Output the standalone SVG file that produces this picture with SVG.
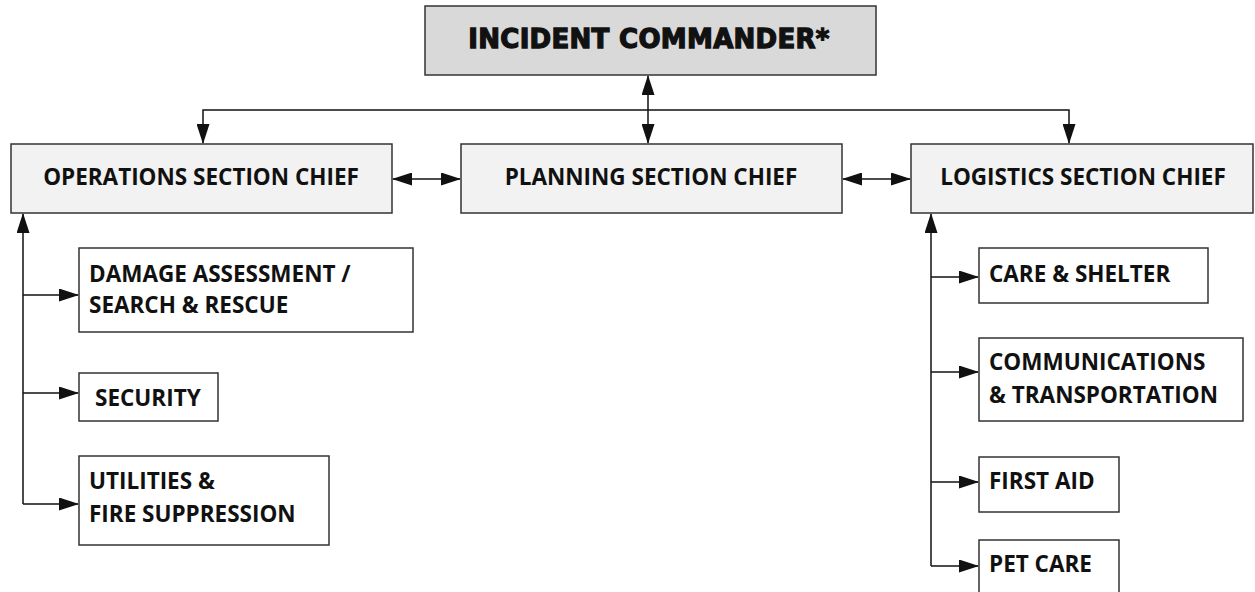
<svg xmlns="http://www.w3.org/2000/svg" width="1255" height="592" viewBox="0 0 1255 592">
<style>
.box{stroke:#333;stroke-width:1.5}
.ic{fill:#d9d9d9}
.sec{fill:#f2f2f2}
.sub{fill:#fff}
.t{font-family:"Open Sans","Liberation Sans",sans-serif;font-weight:700;font-size:22.5px;fill:#111}
.tic{font-family:"DejaVu Sans","Liberation Sans",sans-serif;font-weight:700;font-size:26px;fill:#111;stroke:#111;stroke-width:1.3;letter-spacing:0.3px}
.c{stroke:#111;stroke-width:1.5;fill:none}
</style>
<defs>
<marker id="ah" markerUnits="userSpaceOnUse" markerWidth="20" markerHeight="13" refX="19" refY="6.5" orient="auto-start-reverse" viewBox="0 0 20 13">
<path d="M0,0 L20,6.5 L0,13 z" fill="#111"/>
</marker>
</defs>
<rect width="1255" height="592" fill="#fff"/>
<g id="connectors">
<line class="c" x1="648" y1="110" x2="648" y2="76" marker-end="url(#ah)"/>
<line class="c" x1="648" y1="110" x2="648" y2="143" marker-end="url(#ah)"/>
<path class="c" d="M203,143 V110 H1069 V143" marker-start="url(#ah)" marker-end="url(#ah)"/>
<line class="c" x1="393" y1="179" x2="460" y2="179" marker-start="url(#ah)" marker-end="url(#ah)"/>
<line class="c" x1="843" y1="179" x2="910" y2="179" marker-start="url(#ah)" marker-end="url(#ah)"/>
<line class="c" x1="23" y1="504" x2="23" y2="214" marker-end="url(#ah)"/>
<line class="c" x1="23" y1="295" x2="78" y2="295" marker-end="url(#ah)"/>
<line class="c" x1="23" y1="393" x2="78" y2="393" marker-end="url(#ah)"/>
<line class="c" x1="23" y1="504" x2="78" y2="504" marker-end="url(#ah)"/>
<line class="c" x1="931" y1="566" x2="931" y2="214" marker-end="url(#ah)"/>
<line class="c" x1="931" y1="277" x2="978" y2="277" marker-end="url(#ah)"/>
<line class="c" x1="931" y1="372" x2="978" y2="372" marker-end="url(#ah)"/>
<line class="c" x1="931" y1="482" x2="978" y2="482" marker-end="url(#ah)"/>
<line class="c" x1="931" y1="566" x2="978" y2="566" marker-end="url(#ah)"/>
</g>
<g id="incident-commander">
<rect class="box ic" x="425" y="6" width="451" height="69"/>
<text class="tic" x="649" y="48" text-anchor="middle">INCIDENT COMMANDER*</text>
</g>
<g id="operations">
<rect class="box sec" x="11" y="144" width="381" height="69"/>
<text class="t" x="201" y="185" text-anchor="middle">OPERATIONS SECTION CHIEF</text>
</g>
<g id="planning">
<rect class="box sec" x="461" y="144" width="381" height="69"/>
<text class="t" x="651" y="185" text-anchor="middle">PLANNING SECTION CHIEF</text>
</g>
<g id="logistics">
<rect class="box sec" x="911" y="144" width="342" height="69"/>
<text class="t" x="1083" y="185" text-anchor="middle">LOGISTICS SECTION CHIEF</text>
</g>
<g id="damage-assessment">
<rect class="box sub" x="79" y="248" width="334" height="84"/>
<text class="t" x="89" y="282">DAMAGE ASSESSMENT /</text>
<text class="t" x="89" y="313">SEARCH &amp; RESCUE</text>
</g>
<g id="security">
<rect class="box sub" x="79" y="373" width="139" height="48"/>
<text class="t" x="95" y="406">SECURITY</text>
</g>
<g id="utilities">
<rect class="box sub" x="79" y="456" width="250" height="89"/>
<text class="t" x="89" y="489">UTILITIES &amp;</text>
<text class="t" x="89" y="522">FIRE SUPPRESSION</text>
</g>
<g id="care-shelter">
<rect class="box sub" x="979" y="248" width="229" height="55"/>
<text class="t" x="989" y="282">CARE &amp; SHELTER</text>
</g>
<g id="communications">
<rect class="box sub" x="979" y="338" width="264" height="83"/>
<text class="t" x="989" y="370">COMMUNICATIONS</text>
<text class="t" x="989" y="403">&amp; TRANSPORTATION</text>
</g>
<g id="first-aid">
<rect class="box sub" x="979" y="457" width="140" height="55"/>
<text class="t" x="989" y="489">FIRST AID</text>
</g>
<g id="pet-care">
<rect class="box sub" x="979" y="540" width="140" height="70"/>
<text class="t" x="989" y="572">PET CARE</text>
</g>
</svg>
